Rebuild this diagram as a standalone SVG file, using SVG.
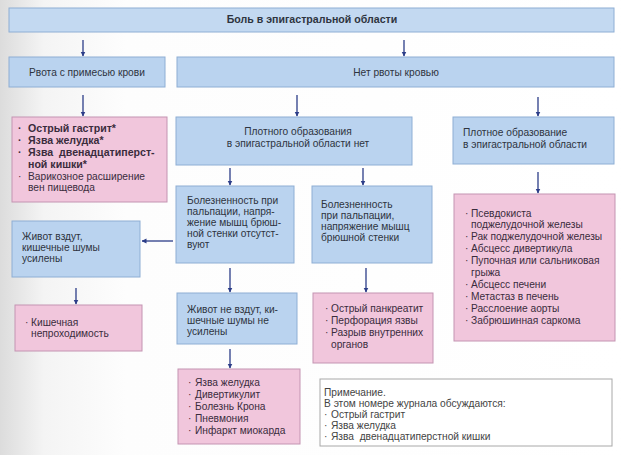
<svg xmlns="http://www.w3.org/2000/svg" width="626" height="455" viewBox="0 0 626 455">
<defs>
<linearGradient id="bg" x1="0" y1="0" x2="1" y2="0">
<stop offset="0" stop-color="#dcdcdc"/>
<stop offset="0.07" stop-color="#f4f4f4"/>
<stop offset="0.2" stop-color="#fdfdfd"/>
<stop offset="1" stop-color="#ffffff"/>
</linearGradient>
<marker id="ah" viewBox="0 0 10 10" refX="9" refY="5" markerWidth="5" markerHeight="7" orient="auto" markerUnits="userSpaceOnUse">
<path d="M0,0 L10,5 L0,10 z" fill="#2c3d88"/>
</marker>
<style>
.b{fill:#bad3ef;stroke:#8eaed4;stroke-width:1}
.bt{fill:#c3d9f1;stroke:#8eaed4;stroke-width:1}
.p{fill:#f1c6dc;stroke:#c394b2;stroke-width:1}
.n{fill:#ffffff;stroke:#a8a8a8;stroke-width:1}
text{font-family:"Liberation Sans",Arial,sans-serif;font-size:10.2px;fill:#2e3440}
.c{text-anchor:middle}
.bd{font-weight:bold;font-size:10.6px}
.pt{fill:#3a2c3c}
.nt{fill:#444444}
.con line{stroke:#2c3d88;stroke-width:1.3;marker-end:url(#ah)}
</style>
</defs>
<rect x="0" y="0" width="626" height="455" fill="url(#bg)"/>

<g id="n-top">
<rect class="bt" x="9" y="8" width="605" height="24"/>
<text class="c bd" x="312" y="23">Боль в эпигастральной области</text>
</g>

<g id="n-vomit-blood">
<rect class="b" x="9" y="57" width="156" height="30"/>
<text class="c" x="87" y="76">Рвота с примесью крови</text>
</g>

<g id="n-no-vomit">
<rect class="b" x="177" y="57" width="437" height="30"/>
<text class="c" x="396" y="76">Нет рвоты кровью</text>
</g>

<g id="n-list1">
<rect class="p" x="12" y="117" width="155" height="85"/>
<text class="pt bd" x="18" y="132">·<tspan x="28">Острый гастрит*</tspan></text>
<text class="pt bd" x="18" y="144">·<tspan x="28">Язва желудка*</tspan></text>
<text class="pt bd" x="18" y="156">·<tspan x="28">Язва&#160; двенадцатиперст-</tspan></text>
<text class="pt bd" x="28" y="168">ной кишки*</text>
<text class="pt" x="18" y="180">·<tspan x="28">Варикозное расширение</tspan></text>
<text class="pt" x="28" y="191">вен пищевода</text>
</g>

<g id="n-no-mass">
<rect class="b" x="176" y="117" width="236" height="48"/>
<text class="c" x="298" y="135">Плотного образования</text>
<text class="c" x="298" y="147">в эпигастральной области нет</text>
</g>

<g id="n-mass">
<rect class="b" x="453" y="117" width="161" height="47"/>
<text x="463" y="136">Плотное образование</text>
<text x="463" y="148">в эпигастральной области</text>
</g>

<g id="n-pain-absent">
<rect class="b" x="176" y="186" width="118" height="77"/>
<text x="187" y="204">Болезненность при</text>
<text x="187" y="215">пальпации, напря-</text>
<text x="187" y="226">жение мышц брюш-</text>
<text x="187" y="237">ной стенки отсутст-</text>
<text x="187" y="248">вуют</text>
</g>

<g id="n-pain">
<rect class="b" x="312" y="186" width="120" height="77"/>
<text x="321" y="208">Болезненность</text>
<text x="321" y="219">при пальпации,</text>
<text x="321" y="230">напряжение мышц</text>
<text x="321" y="241">брюшной стенки</text>
</g>

<g id="n-list-mass">
<rect class="p" x="454" y="194" width="161" height="147"/>
<text class="pt" x="465" y="217">·<tspan x="471">Псевдокиста</tspan></text>
<text class="pt" x="471" y="228">поджелудочной железы</text>
<text class="pt" x="465" y="240">·<tspan x="471">Рак поджелудочной железы</tspan></text>
<text class="pt" x="465" y="252">·<tspan x="471">Абсцесс дивертикула</tspan></text>
<text class="pt" x="465" y="264">·<tspan x="471">Пупочная или сальниковая</tspan></text>
<text class="pt" x="471" y="276">грыжа</text>
<text class="pt" x="465" y="288">·<tspan x="471">Абсцесс печени</tspan></text>
<text class="pt" x="465" y="300">·<tspan x="471">Метастаз в печень</tspan></text>
<text class="pt" x="465" y="312">·<tspan x="471">Расслоение аорты</tspan></text>
<text class="pt" x="465" y="324">·<tspan x="471">Забрюшинная саркома</tspan></text>
</g>

<g id="n-bloated">
<rect class="b" x="12" y="221" width="128" height="56"/>
<text x="22" y="240">Живот вздут,</text>
<text x="22" y="251">кишечные шумы</text>
<text x="22" y="262">усилены</text>
</g>

<g id="n-obstruction">
<rect class="p" x="15" y="305" width="127" height="46"/>
<text class="pt" x="25" y="326">·<tspan x="31">Кишечная</tspan></text>
<text class="pt" x="31" y="337">непроходимость</text>
</g>

<g id="n-not-bloated">
<rect class="b" x="177" y="293" width="120" height="51"/>
<text x="187" y="313">Живот не вздут, ки-</text>
<text x="187" y="324">шечные шумы не</text>
<text x="187" y="335">усилены</text>
</g>

<g id="n-list-acute">
<rect class="p" x="313" y="293" width="120" height="70"/>
<text class="pt" x="325" y="312">·<tspan x="331">Острый панкреатит</tspan></text>
<text class="pt" x="325" y="324">·<tspan x="331">Перфорация язвы</tspan></text>
<text class="pt" x="325" y="336">·<tspan x="331">Разрыв внутренних</tspan></text>
<text class="pt" x="331" y="348">органов</text>
</g>

<g id="n-list-other">
<rect class="p" x="178" y="369" width="122" height="75"/>
<text class="pt" x="188" y="386">·<tspan x="195">Язва желудка</tspan></text>
<text class="pt" x="188" y="398">·<tspan x="195">Дивертикулит</tspan></text>
<text class="pt" x="188" y="410">·<tspan x="195">Болезнь Крона</tspan></text>
<text class="pt" x="188" y="422">·<tspan x="195">Пневмония</tspan></text>
<text class="pt" x="188" y="434">·<tspan x="195">Инфаркт миокарда</tspan></text>
</g>

<g id="n-note">
<rect class="n" x="320" y="379" width="292" height="67"/>
<text class="nt" x="324" y="396">Примечание.</text>
<text class="nt" x="324" y="407">В этом номере журнала обсуждаются:</text>
<text class="nt" x="324" y="418">·<tspan x="331">Острый гастрит</tspan></text>
<text class="nt" x="324" y="429">·<tspan x="331">Язва желудка</tspan></text>
<text class="nt" x="324" y="440">·<tspan x="331">Язва&#160; двенадцатиперстной кишки</tspan></text>
</g>

<g id="connectors" class="con">
<line x1="83" y1="40" x2="83" y2="56"/>
<line x1="404" y1="40" x2="404" y2="56"/>
<line x1="83" y1="95" x2="83" y2="116"/>
<line x1="297" y1="95" x2="297" y2="116"/>
<line x1="538" y1="97" x2="538" y2="116"/>
<line x1="230" y1="168" x2="230" y2="185"/>
<line x1="363" y1="168" x2="363" y2="185"/>
<line x1="538" y1="172" x2="538" y2="193"/>
<line x1="173" y1="241" x2="142" y2="241"/>
<line x1="76" y1="288" x2="76" y2="304"/>
<line x1="230" y1="268" x2="230" y2="292"/>
<line x1="366" y1="268" x2="366" y2="292"/>
<line x1="230" y1="349" x2="230" y2="368"/>
</g>
</svg>
